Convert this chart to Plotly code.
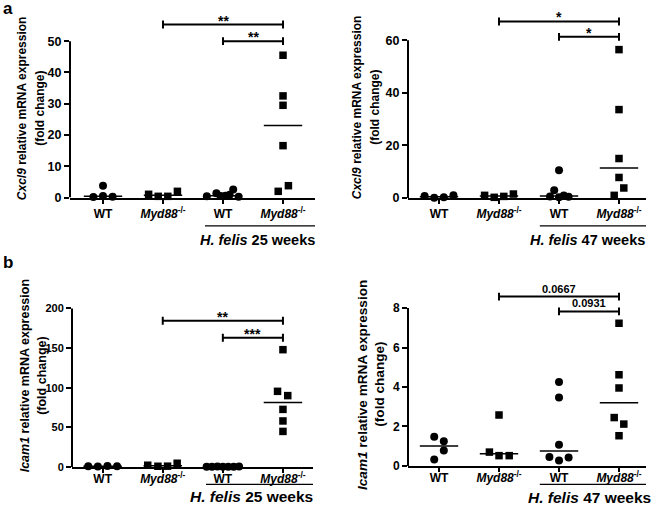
import numpy as np
import plotly.graph_objects as go

W, H = 655, 517

# ---- data ----
group_pos = [0, 1, 2, 3]
group_ticktext = ["WT", "<i>Myd88</i><sup>-/-</sup>", "WT", "<i>Myd88</i><sup>-/-</sup>"]

# a, left: Cxcl9, H. felis 25 weeks
cxcl9_25_wt = [0.2, 0.5, 3.8, 0.3]
cxcl9_25_ko = [1.05, 0.4, 0.4, 2.0]
cxcl9_25_hf_wt = [0.4, 1.4, 0.5, 0.6, 0.9, 2.6, 0.3]
cxcl9_25_hf_ko = [45.5, 32.5, 29.5, 16.6, 3.8, 2.0]
cxcl9_25_yticks = [0, 10, 20, 30, 40, 50]
cxcl9_25_sig = [(1, 3, 55.3, "**"), (2, 3, 50.0, "**")]

# a, right: Cxcl9, H. felis 47 weeks
cxcl9_47_wt = [0.75, 0.1, 0.25, 1.0]
cxcl9_47_ko = [1.0, 0.25, 0.6, 1.5]
cxcl9_47_hf_wt = [10.5, 2.9, 0.6, 0.3, 0.5, 0.9]
cxcl9_47_hf_ko = [56.4, 33.6, 15.0, 7.8, 3.8, 1.0]
cxcl9_47_yticks = [0, 20, 40, 60]
cxcl9_47_sig = [(1, 3, 67.1, "*"), (2, 3, 61.25, "*")]

# b, left: Icam1, H. felis 25 weeks
icam1_25_wt = [0.8, 0.6, 1.0, 0.7]
icam1_25_ko = [2.1, 0.8, 0.9, 4.6]
icam1_25_hf_wt = [0.3, 0.2, 0.4, 0.3, 0.2, 0.3, 0.4]
icam1_25_hf_ko = [148, 95.4, 90, 72.6, 58, 44.8]
icam1_25_yticks = [0, 50, 100, 150, 200]
icam1_25_sig = [(1, 3, 184.6, "**"), (2, 3, 163.0, "***")]

# b, right: Icam1, H. felis 47 weeks
icam1_47_wt = [1.48, 1.25, 0.78, 0.33]
icam1_47_ko = [2.58, 0.7, 0.52, 0.52]
icam1_47_hf_wt = [4.25, 3.47, 1.07, 0.45, 0.28, 0.42]
icam1_47_hf_ko = [7.23, 4.62, 3.95, 2.45, 2.12, 1.53]
icam1_47_yticks = [0, 2, 4, 6, 8]
icam1_47_sig = [(1, 3, 8.58, "0.0667"), (2, 3, 7.83, "0.0931")]

# horizontal scatter of points inside each column (Prism style)
off_a25 = [[-0.16, 0, 0, 0.16], [-0.24, -0.08, 0.08, 0.24],
           [-0.27, -0.11, -0.04, 0.04, 0.11, 0.17, 0.26], [0, 0, 0, 0, 0.09, -0.08]]
off_a47 = [[-0.24, -0.08, 0.08, 0.24], [-0.24, -0.08, 0.08, 0.24],
           [0, -0.08, -0.15, 0, 0.16, 0.08], [0, 0, 0, 0, 0.08, -0.08]]
off_b25 = [[-0.24, -0.08, 0.08, 0.24], [-0.25, -0.08, 0.08, 0.24],
           [-0.27, -0.18, -0.09, 0, 0.09, 0.18, 0.27], [0, -0.09, 0.08, 0, 0, 0]]
off_b47 = [[-0.08, 0.08, 0.08, -0.08], [0, -0.16, 0, 0.17],
           [0, 0, 0, -0.16, 0, 0.16], [0, 0, 0, -0.08, 0.08, 0]]

FONT = "Liberation Sans, Arial, sans-serif"


def px_x(p):
    return p / W


def px_y(p):
    return 1 - p / H


panels = [
    dict(values=[cxcl9_25_wt, cxcl9_25_ko, cxcl9_25_hf_wt, cxcl9_25_hf_ko], offsets=off_a25,
         yticks=cxcl9_25_yticks, sig=cxcl9_25_sig, gene="Cxcl9", weeks="25",
         xpx=(70, 315), ypx=(200.3, 10), xr=(-0.55, 3.533), yr=(0, 60),
         title_x=(21.7, 39.3), title_y=110, title_size=12, tick_size=12.5, xstandoff=0,
         gline=(1.7, 3.533, 229), glabel=(2.58, 243), glabel_size=14.5, sig_size=14),
    dict(values=[cxcl9_47_wt, cxcl9_47_ko, cxcl9_47_hf_wt, cxcl9_47_hf_ko], offsets=off_a47,
         yticks=cxcl9_47_yticks, sig=cxcl9_47_sig, gene="Cxcl9", weeks="47",
         xpx=(408, 646), ypx=(200.7, 8.7), xr=(-0.517, 3.45), yr=(0, 72),
         title_x=(356.7, 374.3), title_y=109, title_size=12, tick_size=12.5, xstandoff=0,
         gline=(1.68, 3.45, 229), glabel=(2.47, 243), glabel_size=14.5, sig_size=14),
    dict(values=[icam1_25_wt, icam1_25_ko, icam1_25_hf_wt, icam1_25_hf_ko], offsets=off_b25,
         yticks=icam1_25_yticks, sig=icam1_25_sig, gene="Icam1", weeks="25",
         xpx=(72, 313), ypx=(473.3, 280.6), xr=(-0.51, 3.5), yr=(0, 240),
         title_x=(24.5, 42), title_y=381, title_size=12.5, tick_size=11, xstandoff=-4,
         gline=(1.72, 3.5, 491), glabel=(2.48, 503), glabel_size=15.5, sig_size=14),
    dict(values=[icam1_47_wt, icam1_47_ko, icam1_47_hf_wt, icam1_47_hf_ko], offsets=off_b47,
         yticks=icam1_47_yticks, sig=icam1_47_sig, gene="Icam1", weeks="47",
         xpx=(408, 646), ypx=(472.3, 280.3), xr=(-0.517, 3.45), yr=(0, 9.6),
         title_x=(362.3, 380), title_y=390, title_size=13.6, tick_size=12, xstandoff=-4,
         gline=(1.68, 3.45, 491), glabel=(2.5, 504), glabel_size=15.5, sig_size=11),
]

fig = go.Figure()
shapes = []
annotations = []
layout = {}

for i, p in enumerate(panels):
    n = "" if i == 0 else str(i + 1)
    xa, ya = "x" + n, "y" + n
    px_per_unit = (p["ypx"][0] - p["ypx"][1]) / (p["yr"][1] - p["yr"][0])

    for g, (vals, offs) in enumerate(zip(p["values"], p["offsets"])):
        fig.add_trace(go.Scatter(
            x=np.array(offs) + group_pos[g], y=vals, mode="markers",
            marker=dict(symbol="circle" if g % 2 == 0 else "square",
                        size=8 if g % 2 == 0 else 7.5, color="black", line_width=0),
            cliponaxis=False, showlegend=False, xaxis=xa, yaxis=ya, hoverinfo="skip"))
        med = float(np.median(vals))
        shapes.append(dict(type="line", xref=xa, yref=ya, x0=group_pos[g] - 0.32,
                           x1=group_pos[g] + 0.32, y0=med, y1=med,
                           line=dict(color="black", width=1.5)))

    # y axis line stops at the last tick, like Prism
    shapes.append(dict(type="line", xref=xa + " domain", yref=ya, x0=0, x1=0,
                       y0=0, y1=p["yticks"][-1], line=dict(color="black", width=2)))

    # significance brackets
    cap = 4 / px_per_unit
    for a, b, yv, lab in p["sig"]:
        shapes.append(dict(type="line", xref=xa, yref=ya, x0=a, x1=b, y0=yv, y1=yv,
                           line=dict(color="black", width=2)))
        for e in (a, b):
            shapes.append(dict(type="line", xref=xa, yref=ya, x0=e, x1=e,
                               y0=yv - cap, y1=yv + cap, line=dict(color="black", width=2)))
        star = lab.startswith("*")
        annotations.append(dict(xref=xa, yref=ya, x=(a + b) / 2, y=yv, text="<b>%s</b>" % lab,
                                showarrow=False, yanchor="middle" if star else "bottom",
                                yshift=4 if star else 0,
                                font=dict(family=FONT, size=p["sig_size"], color="black")))

    # infection group underline + label
    gx0, gx1, gy = p["gline"]
    shapes.append(dict(type="line", xref=xa, yref="paper", x0=gx0, x1=gx1,
                       y0=px_y(gy), y1=px_y(gy), line=dict(color="black", width=1.2)))
    annotations.append(dict(xref=xa, yref="paper", x=p["glabel"][0], y=px_y(p["glabel"][1]),
                            text="<b><i>H. felis</i> %s weeks</b>" % p["weeks"], showarrow=False,
                            yanchor="middle", xanchor="center",
                            font=dict(family=FONT, size=p["glabel_size"], color="black")))

    # y title (two lines, Prism spacing)
    annotations.append(dict(xref="paper", yref="paper", x=px_x(p["title_x"][0]),
                            y=px_y(p["title_y"]), textangle=-90, showarrow=False,
                            text="<b><i>%s</i> relative mRNA expression</b>" % p["gene"],
                            xanchor="center", yanchor="middle",
                            font=dict(family=FONT, size=p["title_size"], color="black")))
    annotations.append(dict(xref="paper", yref="paper", x=px_x(p["title_x"][1]),
                            y=px_y(p["title_y"]), textangle=-90, showarrow=False,
                            text="<b>(fold change)</b>", xanchor="center", yanchor="middle",
                            font=dict(family=FONT, size=p["title_size"], color="black")))

    layout["xaxis" + n] = dict(
        domain=[px_x(p["xpx"][0]), px_x(p["xpx"][1])], range=list(p["xr"]), anchor=ya,
        tickvals=group_pos, ticktext=group_ticktext, ticks="outside", ticklen=4, tickwidth=2,
        tickcolor="black", showline=True, linewidth=2, linecolor="black",
        showgrid=False, zeroline=False, ticklabelstandoff=p["xstandoff"],
        tickfont=dict(family=FONT, size=12, color="black", weight="bold"))
    layout["yaxis" + n] = dict(
        domain=[px_y(p["ypx"][0]), px_y(p["ypx"][1])], range=list(p["yr"]), anchor=xa,
        tickvals=p["yticks"], ticks="outside", ticklen=5, tickwidth=2, tickcolor="black",
        showline=False, showgrid=False, zeroline=False,
        tickfont=dict(family=FONT, size=p["tick_size"], color="black", weight="bold"))

# panel letters
for letter, yp in (("a", 9), ("b", 266)):
    annotations.append(dict(xref="paper", yref="paper", x=px_x(1), y=px_y(yp), text="<b>%s</b>" % letter,
                            showarrow=False, xanchor="left", yanchor="middle",
                            font=dict(family=FONT, size=17, color="black")))

fig.update_layout(
    width=W, height=H, margin=dict(l=0, r=0, t=0, b=0),
    paper_bgcolor="white", plot_bgcolor="white",
    shapes=shapes, annotations=annotations, **layout)

# the default page adds an 8px body margin; remove it so the figure fills the window
fig.write_html("out.html", config={"displayModeBar": False},
               post_script="document.body.style.margin='0px';")
